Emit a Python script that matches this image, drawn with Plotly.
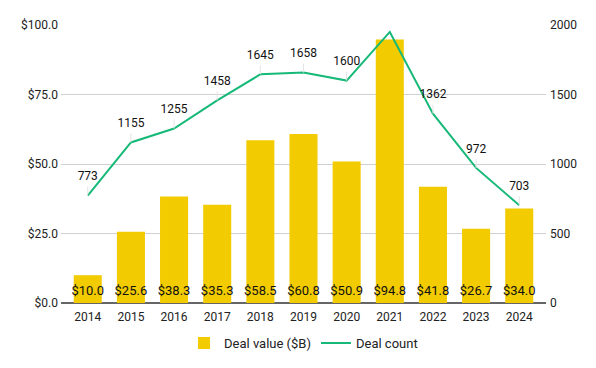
import plotly.graph_objects as go

years = ["2014", "2015", "2016", "2017", "2018", "2019", "2020", "2021", "2022", "2023", "2024"]
deal_value = [10.0, 25.6, 38.3, 35.3, 58.5, 60.8, 50.9, 94.8, 41.8, 26.7, 34.0]
deal_count = [773, 1155, 1255, 1458, 1645, 1658, 1600, 1950, 1362, 972, 703]
show_count_label = [True, True, True, True, True, True, True, False, True, True, True]

BAR = "#F2CB00"
LINE = "#17B978"
FONT = "Roboto"

fig = go.Figure()
fig.add_trace(go.Bar(x=years, y=deal_value, name="Deal value ($B)", marker_color=BAR,
                     marker_line_width=0, yaxis="y"))
fig.add_trace(go.Scatter(x=years, y=deal_count, name="Deal count", mode="lines",
                         line=dict(color=LINE, width=2), yaxis="y2"))

# bar value labels at the base of each bar
fig.add_trace(go.Scatter(x=years, y=[0] * len(years), mode="markers+text",
                         text=["$" + f"{v:.1f}" for v in deal_value], textposition="top center",
                         marker=dict(size=6, opacity=0),
                         textfont=dict(size=13, color="#111", family=FONT),
                         showlegend=False, hoverinfo="skip", yaxis="y"))

# deal count labels above points
lx = [y for y, s in zip(years, show_count_label) if s]
ly = [c for c, s in zip(deal_count, show_count_label) if s]
fig.add_trace(go.Scatter(x=lx, y=ly, mode="markers+text", text=[str(c) for c in ly],
                         textposition="top center", marker=dict(size=18, opacity=0),
                         textfont=dict(size=12, color="#111", family=FONT),
                         error_y=dict(type="constant", value=65, symmetric=False, valueminus=0,
                                      color="#e4e4e4", thickness=1, width=0),
                         showlegend=False, hoverinfo="skip", yaxis="y2"))

fig.update_layout(
    width=596, height=368,
    margin=dict(l=61, r=50, t=25, b=65, autoexpand=False),
    paper_bgcolor="white", plot_bgcolor="white",
    font=dict(family=FONT, size=12, color="#222"),
    bargap=0.35,
    xaxis=dict(type="category", range=[-0.62, 10.62], showgrid=False, ticks="",
               ticklabelstandoff=5,
               tickfont=dict(size=12, color="#222"), showline=False, zeroline=False),
    yaxis=dict(range=[0, 100], tickvals=[0, 25, 50, 75, 100],
               ticktext=["$0.0", "$25.0", "$50.0", "$75.0", "$100.0"],
               showgrid=True, gridcolor="#d0d0d0", gridwidth=1, zeroline=True,
               zerolinecolor="#666", zerolinewidth=2, ticks="", ticklabelstandoff=2,
               tickfont=dict(size=12, color="#222")),
    yaxis2=dict(range=[0, 2000], tickvals=[0, 500, 1000, 1500, 2000], overlaying="y", side="right",
                showgrid=False, zeroline=False, ticks="", ticklabelstandoff=3,
                tickfont=dict(size=12, color="#222")),
    legend=dict(orientation="h", x=0.5, xanchor="center", y=-0.144, yanchor="middle",
                font=dict(size=13, color="#222")),
)

fig.write_html("out.html", config={"displayModeBar": False},
               post_script="document.body.style.margin='0';")
